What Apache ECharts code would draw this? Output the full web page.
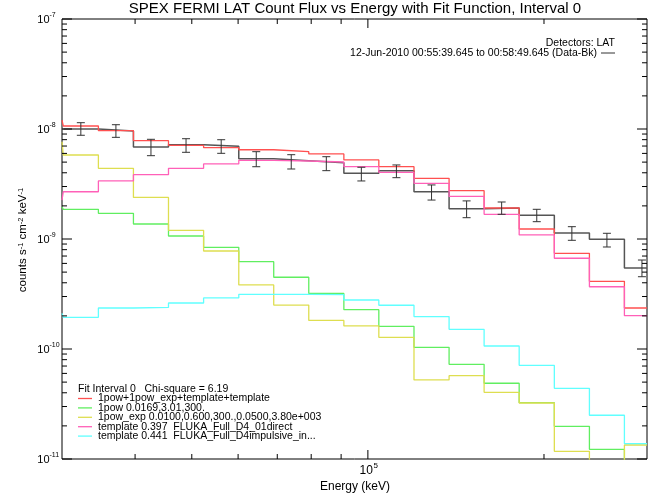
<!DOCTYPE html>
<html>
<head>
<meta charset="utf-8">
<script src="https://cdn.jsdelivr.net/npm/echarts@6/dist/echarts.min.js"></script>
<style>
html,body{margin:0;padding:0;background:#fff;}
#chart{width:665px;height:499px;}
</style>
</head>
<body>
<div id="chart"></div>
<script>
// ---- data ----
// energy bin edges (keV); first bin is mostly left of the plotted range
const binEdges = [26260, 30150, 34620, 39740, 45620, 52380, 60160, 69030, 79240, 90980,
  104400, 119900, 137660, 158010, 181390, 208310, 239160, 274480, 315120];

// model components (counts s^-1 cm^-2 keV^-1), one value per bin (18 bins)
const totalFit = [1.207e-8, 1.065e-8, 9.65e-9, 7.83e-9, 7.11e-9, 6.76e-9, 6.48e-9, 6.22e-9, 5.93e-9,
  5.23e-9, 4.54e-9, 3.56e-9, 2.75e-9, 1.913e-9, 1.233e-9, 7.41e-10, 4.12e-10, 2.36e-10];
const pow1 = [1.966e-9, 1.862e-9, 1.713e-9, 1.369e-9, 1.065e-9, 8.40e-10, 6.22e-10, 4.49e-10, 3.20e-10,
  2.28e-10, 1.608e-10, 1.036e-10, 7.26e-11, 4.88e-11, 3.25e-11, 1.98e-11, 1.225e-11, 7.0e-12];
const powExp = [7.66e-9, 5.80e-9, 4.39e-9, 2.39e-9, 1.200e-9, 7.78e-10, 3.82e-10, 2.51e-10, 1.82e-10,
  1.62e-10, 1.278e-10, 5.23e-11, 5.72e-11, 4.04e-11, 3.23e-11, 1.175e-11, 5.0e-12, 1.341e-11];
const templDirect = [2.26e-9, 2.69e-9, 3.37e-9, 3.84e-9, 4.39e-9, 4.81e-9, 5.19e-9, 5.12e-9, 5.01e-9,
  4.54e-9, 4.04e-9, 3.21e-9, 2.44e-9, 1.677e-9, 1.088e-9, 6.68e-10, 3.68e-10, 2.01e-10];
const templImpulsive = [2.11e-10, 1.94e-10, 2.36e-10, 2.39e-10, 2.62e-10, 2.91e-10, 3.14e-10, 3.14e-10, 3.12e-10,
  2.79e-10, 2.50e-10, 1.97e-10, 1.51e-10, 1.065e-10, 7.11e-11, 4.39e-11, 2.50e-11, 1.377e-11];

// measured data (Data-Bk), bins 2..18 of binEdges
const dataFlux = [1.0e-8, 9.59e-9, 6.86e-9, 7.20e-9, 6.96e-9, 5.37e-9, 5.15e-9, 4.94e-9, 3.96e-9,
  4.18e-9, 2.69e-9, 1.886e-9, 1.913e-9, 1.642e-9, 1.134e-9, 9.94e-10, 5.45e-10];
const dataHi = [1.141e-8, 1.094e-8, 8.06e-9, 8.16e-9, 7.99e-9, 6.22e-9, 5.84e-9, 5.60e-9, 4.49e-9,
  4.71e-9, 3.10e-9, 2.22e-9, 2.17e-9, 1.862e-9, 1.294e-9, 1.127e-9, 6.44e-10];
const dataLo = [8.77e-9, 8.40e-9, 5.72e-9, 6.14e-9, 6.01e-9, 4.54e-9, 4.33e-9, 4.18e-9, 3.37e-9,
  3.61e-9, 2.26e-9, 1.562e-9, 1.677e-9, 1.437e-9, 9.73e-10, 8.46e-10, 4.54e-10];

// axes
const X_MIN = 30000, X_MAX = 300000;
const Y_MIN = 1e-11, Y_MAX = 1e-7;
const xMajorTicks = [1e5];
const xMajorLabels = [['10', '5']];
const xMinorTicks = [4e4, 5e4, 6e4, 7e4, 8e4, 9e4, 2e5];
const yMajorTicks = [1e-11, 1e-10, 1e-9, 1e-8, 1e-7];
const yMajorLabels = [['10', '-11'], ['10', '-10'], ['10', '-9'], ['10', '-8'], ['10', '-7']];
const yMinorMult = [2, 3, 4, 5, 6, 7, 8, 9];

const legendTitle = 'Fit Interval 0   Chi-square = 6.19';
const legendNames = ['1pow+1pow_exp+template+template', '1pow 0.0169,3.01,300.',
  '1pow_exp 0.0100,0.600,300.,0.0500,3.80e+003', 'template 0.397  FLUKA_Full_D4_01direct',
  'template 0.441  FLUKA_Full_D4impulsive_in...'];
const colors = ['#ff5050', '#60ee60', '#dede50', '#ff60b8', '#60ffff'];

// ---- build ----
// step histogram points, limited to the x-axis range
function hist(vals, offset) {
  const pts = [];
  for (let i = 0; i < vals.length; i++) pts.push([Math.max(binEdges[i + offset], X_MIN), vals[i]]);
  pts.push([Math.min(binEdges[vals.length + offset], X_MAX), vals[vals.length - 1]]);
  return pts;
}
const errData = dataFlux.map((v, i) => [Math.sqrt(binEdges[i + 1] * binEdges[i + 2]), v, dataLo[i], dataHi[i]]);

const tickData = [];
xMajorTicks.forEach((v, i) => tickData.push([v, Y_MIN, 0, i]));
xMinorTicks.forEach(v => tickData.push([v, Y_MIN, 1, 0]));
yMajorTicks.forEach((v, i) => tickData.push([X_MIN, v, 2, i]));
yMajorTicks.slice(0, -1).forEach(d => yMinorMult.forEach(m => tickData.push([X_MIN, d * m, 3, 0])));

const FONT = '"Liberation Sans", Arial, Helvetica, sans-serif';

function lineEl(x1, y1, x2, y2) {
  return { type: 'line', shape: { x1, y1, x2, y2 }, style: { stroke: '#000', lineWidth: 1 } };
}

const fitSeries = [totalFit, pow1, powExp, templDirect, templImpulsive].map((vals, k) => ({
  type: 'line', step: 'end', data: hist(vals, 0), showSymbol: false, symbol: 'none',
  lineStyle: { color: colors[k], width: 1.3 }, clip: true, z: 3, silent: true
}));

const option = {
  animation: false,
  backgroundColor: '#fff',
  grid: { left: 62, right: 18, top: 19, bottom: 40, show: true, borderColor: '#000', borderWidth: 1, backgroundColor: 'transparent' },
  xAxis: { type: 'log', logBase: 10, min: X_MIN, max: X_MAX,
    axisLine: { show: false }, axisTick: { show: false }, axisLabel: { show: false }, splitLine: { show: false } },
  yAxis: { type: 'log', logBase: 10, min: Y_MIN, max: Y_MAX,
    axisLine: { show: false }, axisTick: { show: false }, axisLabel: { show: false }, splitLine: { show: false } },
  series: [
    { type: 'line', step: 'end', data: hist(dataFlux, 1), showSymbol: false, symbol: 'none',
      lineStyle: { color: '#555', width: 1.5 }, clip: true, z: 2, silent: true },
    ...fitSeries,
    { type: 'custom', data: errData, clip: true, z: 5, silent: true,
      renderItem: function (params, api) {
        const x = api.value(0);
        const pl = api.coord([x, api.value(2)]);
        const ph = api.coord([x, api.value(3)]);
        const c = { stroke: '#333', lineWidth: 1 };
        return { type: 'group', children: [
          { type: 'line', shape: { x1: pl[0], y1: pl[1], x2: ph[0], y2: ph[1] }, style: c },
          { type: 'line', shape: { x1: pl[0] - 4, y1: pl[1], x2: pl[0] + 4, y2: pl[1] }, style: c },
          { type: 'line', shape: { x1: ph[0] - 4, y1: ph[1], x2: ph[0] + 4, y2: ph[1] }, style: c }
        ] };
      } },
    { type: 'custom', data: tickData, clip: false, z: 6, silent: true,
      renderItem: function (params, api) {
        const kind = api.value(2), idx = api.value(3);
        const ch = [];
        if (kind === 0 || kind === 1) {
          const v = api.value(0);
          const pb = api.coord([v, Y_MIN]);
          const pt = api.coord([v, Y_MAX]);
          const len = kind === 0 ? 9 : 5;
          ch.push(lineEl(pb[0], pb[1], pb[0], pb[1] - len));
          ch.push(lineEl(pt[0], pt[1], pt[0], pt[1] + len));
          if (kind === 0) {
            const lab = xMajorLabels[idx];
            ch.push({ type: 'text', style: { text: lab[0], x: pb[0] + 5, y: pb[1] + 12, align: 'right', verticalAlign: 'middle', font: '12px ' + FONT, fill: '#000' } });
            ch.push({ type: 'text', style: { text: lab[1], x: pb[0] + 5.5, y: pb[1] + 7, align: 'left', verticalAlign: 'middle', font: '8px ' + FONT, fill: '#000' } });
          }
        } else {
          const v = api.value(1);
          const pl = api.coord([X_MIN, v]);
          const pr = api.coord([X_MAX, v]);
          const len = kind === 2 ? 10 : 5;
          ch.push(lineEl(pl[0], pl[1], pl[0] + len, pl[1]));
          ch.push(lineEl(pr[0], pr[1], pr[0] - len, pr[1]));
          if (kind === 2) {
            const lab = yMajorLabels[idx];
            ch.push({ type: 'text', style: { text: lab[0], x: pl[0] - 12.5, y: pl[1] + 1, align: 'right', verticalAlign: 'middle', font: '11px ' + FONT, fill: '#000' } });
            ch.push({ type: 'text', style: { text: lab[1], x: pl[0] - 12.5, y: pl[1] - 3.5, align: 'left', verticalAlign: 'middle', font: '7px ' + FONT, fill: '#000' } });
          }
        }
        return { type: 'group', children: ch };
      } }
  ],
  graphic: (function () {
    const g = [];
    g.push({ type: 'text', x: 355, y: 9, style: { text: 'SPEX FERMI LAT Count Flux vs Energy with Fit Function, Interval 0', align: 'center', verticalAlign: 'middle', font: '15px ' + FONT, fill: '#000' } });
    g.push({ type: 'text', x: 615, y: 43, style: { text: 'Detectors: LAT', align: 'right', verticalAlign: 'middle', font: '10.5px ' + FONT, fill: '#000' } });
    g.push({ type: 'text', x: 597, y: 53, style: { text: '12-Jun-2010 00:55:39.645 to 00:58:49.645 (Data-Bk)', align: 'right', verticalAlign: 'middle', font: '10.5px ' + FONT, fill: '#000' } });
    g.push({ type: 'line', shape: { x1: 601, y1: 53, x2: 615, y2: 53 }, style: { stroke: '#333', lineWidth: 1 } });
    g.push({ type: 'text', x: 355, y: 487, style: { text: 'Energy (keV)', align: 'center', verticalAlign: 'middle', font: '12px ' + FONT, fill: '#000' } });
    g.push({ type: 'text', x: 23, y: 240, rotation: Math.PI / 2, style: {
      text: '{n|counts s}{s|-1}{n| cm}{s|-2}{n| keV}{s|-1}', align: 'center', verticalAlign: 'middle',
      rich: { n: { fontSize: 11.5, fontFamily: FONT, fill: '#000', verticalAlign: 'bottom' }, s: { fontSize: 7.5, fontFamily: FONT, fill: '#000', verticalAlign: 'top' } } } });
    g.push({ type: 'text', x: 78, y: 389, style: { text: legendTitle, align: 'left', verticalAlign: 'middle', font: '10.5px ' + FONT, fill: '#000' } });
    legendNames.forEach((name, i) => {
      const y = 398.5 + i * 9.4;
      g.push({ type: 'line', shape: { x1: 78, y1: y, x2: 92, y2: y }, style: { stroke: colors[i], lineWidth: 1.3 } });
      g.push({ type: 'text', x: 98, y: y, style: { text: name, align: 'left', verticalAlign: 'middle', font: '10.5px ' + FONT, fill: '#000' } });
    });
    return g;
  })()
};

const chart = echarts.init(document.getElementById('chart'), null, { renderer: 'canvas' });
chart.setOption(option);
</script>
</body>
</html>
